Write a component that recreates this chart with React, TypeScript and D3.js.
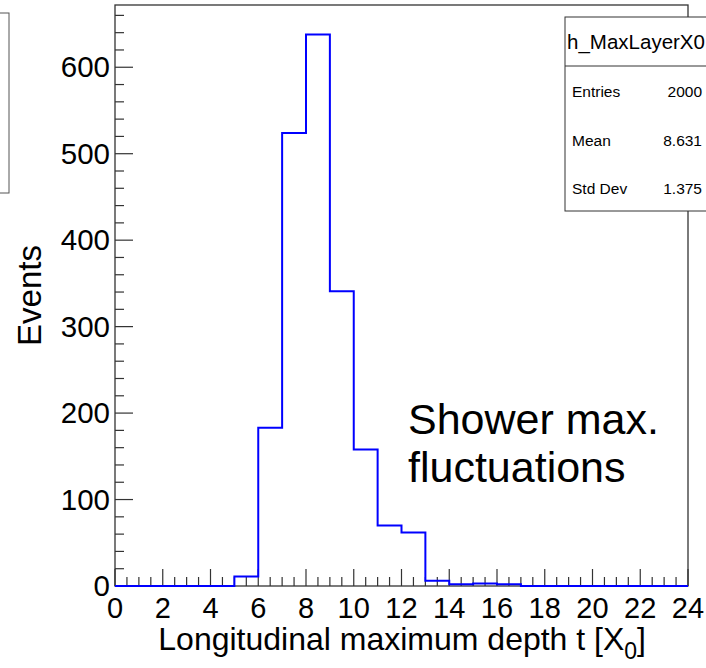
import React from "react";
import * as d3 from "d3";

const binEdges = d3.range(0, 25); // 0..24
const binCounts = [0, 0, 0, 0, 0, 11, 183, 524, 638, 341, 158, 70, 62, 6, 2, 3, 2, 0, 0, 0, 0, 0, 0, 0];
const xTickValues = [0, 2, 4, 6, 8, 10, 12, 14, 16, 18, 20, 22, 24];
const yTickValues = [0, 100, 200, 300, 400, 500, 600];
const statsTitle = "h_MaxLayerX0";
const statsRows = [
  ["Entries", "2000"],
  ["Mean", "8.631"],
  ["Std Dev", "1.375"],
];
const xTitle = "Longitudinal maximum depth t [X";
const xTitleSub = "0";
const yTitle = "Events";
const annotation = ["Shower max.", "fluctuations"];

const W = 706;
const H = 668;
const L = 115, R = 688, T = 5, B = 586;
const FONT = "'Liberation Sans', Arial, Helvetica, sans-serif";

export default function App() {
  const x = d3.scaleLinear().domain([0, 24]).range([L, R]);
  const y = d3.scaleLinear().domain([0, 672]).range([B, T]);

  const pts: [number, number][] = [];
  binCounts.forEach((c, i) => {
    pts.push([binEdges[i], c]);
    pts.push([binEdges[i + 1], c]);
  });
  const line = d3.line<[number, number]>().x((d) => x(d[0])).y((d) => y(d[1]));
  const histPath = line([[0, 0], ...pts, [24, 0]]) || "";

  const xMinor = d3.range(0, 24.001, 0.5);
  const yMinor = d3.range(0, 672, 20);

  return (
    <svg width={W} height={H} style={{ position: "absolute", left: 0, top: 0, background: "#fff" }} fontFamily={FONT}>
      <rect x={0} y={0} width={W} height={H} fill="#fff" />
      {/* left partial box */}
      <rect x={-20} y={13} width={29} height={180} fill="#fff" stroke="#555" strokeWidth={1} />
      {/* frame */}
      <rect x={L} y={T} width={R - L} height={B - T} fill="none" stroke="#333" strokeWidth={1.3} />
      {/* x ticks */}
      {xMinor.map((v) => {
        const major = Math.abs(v % 2) < 1e-6;
        return <line key={"xt" + v} x1={x(v)} x2={x(v)} y1={B} y2={B - (major ? 17 : 9)} stroke="#333" strokeWidth={1.2} />;
      })}
      {yMinor.map((v) => {
        const major = v % 100 === 0;
        return <line key={"yt" + v} x1={L} x2={L + (major ? 18 : 9)} y1={y(v)} y2={y(v)} stroke="#333" strokeWidth={1.2} />;
      })}
      {/* histogram */}
      <path d={histPath} fill="none" stroke="#0000ff" strokeWidth={2} />
      {/* tick labels */}
      {xTickValues.map((v) => (
        <text key={"xl" + v} x={x(v)} y={618} textAnchor="middle" fontSize={29}>{v}</text>
      ))}
      {yTickValues.map((v) => (
        <text key={"yl" + v} x={110} y={y(v) + 10} textAnchor="end" fontSize={29.5}>{v}</text>
      ))}
      {/* axis titles */}
      <text x={646} y={650} textAnchor="end" fontSize={32}>
        {xTitle}
        <tspan fontSize={23} dy={9}>{xTitleSub}</tspan>
        <tspan dy={-9}>]</tspan>
      </text>
      <text transform={`translate(41,245) rotate(-90)`} textAnchor="end" fontSize={33}>{yTitle}</text>
      {/* annotation */}
      {annotation.map((s, i) => (
        <text key={s} x={408} y={434 + i * 48} fontSize={43}>{s}</text>
      ))}
      {/* stats box */}
      <rect x={565} y={17} width={160} height={194} fill="#fff" stroke="#333" strokeWidth={1} />
      <line x1={565} x2={706} y1={66} y2={66} stroke="#333" strokeWidth={1} />
      <text x={636} y={49} textAnchor="middle" fontSize={20.5}>{statsTitle}</text>
      {statsRows.map((r, i) => (
        <g key={r[0]}>
          <text x={572} y={97 + i * 48.5} fontSize={15.5}>{r[0]}</text>
          <text x={702} y={97 + i * 48.5} textAnchor="end" fontSize={15.5}>{r[1]}</text>
        </g>
      ))}
    </svg>
  );
}
